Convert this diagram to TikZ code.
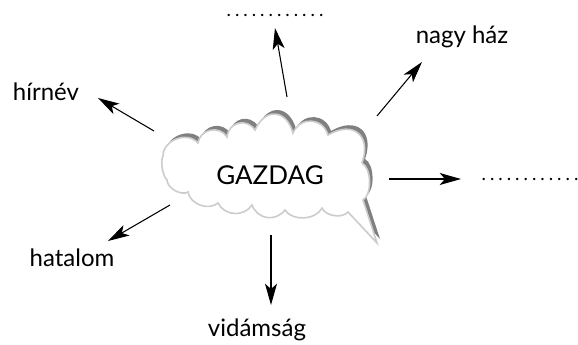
\documentclass[tikz,border=0pt]{standalone}
\usepackage{fontspec}
\setmainfont{Lato}
\usetikzlibrary{arrows.meta}
\newcommand\dotrow{\makebox[6.3pt]{.}\makebox[6.3pt]{.}\makebox[6.3pt]{.}\makebox[6.3pt]{.}\makebox[6.3pt]{.}\makebox[6.3pt]{.}\makebox[6.3pt]{.}\makebox[6.3pt]{.}\makebox[6.3pt]{.}\makebox[6.3pt]{.}\makebox[6.3pt]{.}\makebox[6.3pt]{.}}
\def\cloudpath{(163,156) to[bend left=70, looseness=1.1] (198,143) to[bend left=70, looseness=1.23] (227,137) to[bend left=70, looseness=1.34] (255,130) to[bend left=70, looseness=1.67] (293,133) to[bend left=70, looseness=1.34] (328,135) to[bend left=70, looseness=1.7] (362,163) to[bend left=60, looseness=0.75] (363,200) -- (377,243) -- (348,212) to[bend left=60, looseness=0.85] (322,208) to[bend left=60, looseness=0.95] (285,210) to[bend left=60, looseness=1.2] (252,205) to[bend left=60, looseness=1.1] (218,203) to[bend left=60, looseness=1.0] (188,192) to[bend left=60, looseness=0.85] (167,180) to[bend left=40, looseness=0.6] cycle}
\begin{document}
\begin{tikzpicture}[x=0.75pt,y=-0.75pt,
  lbl/.style={font=\fontsize{18pt}{20pt}\selectfont, inner sep=0pt, anchor=base},
  big/.style={font=\fontsize{19.5pt}{22pt}\selectfont, inner sep=0pt, anchor=base},
  dots/.style={font=\fontsize{14pt}{16pt}\selectfont, inner sep=0pt, anchor=base},
  arr/.style={line width=0.8pt, -{Stealth[length=16pt,width=9pt,inset=4pt]}},
  shadowfill/.style={fill=black!50},
  cloudfill/.style={fill=white, draw=black!20, line width=1.2pt},
]
\useasboundingbox (0,0) rectangle (578,344);
% cloud
\fill[shadowfill, shift={(3,-4)}] \cloudpath;
\filldraw[cloudfill] \cloudpath;
\node[big] (g) at (270,184) {GAZDAG};
% labels
\node[lbl] (hir) at (46,100) {hírnév};
\node[lbl] (nagy) at (462,43) {nagy ház};
\node[lbl] (hat) at (72,266) {hatalom};
\node[lbl] (vid) at (257,336) {vidámság};
\node[dots] (top) at (275,16) {\dotrow};
\node[dots] (right) at (530,180) {\dotrow};
% arrow ends
\coordinate (s1) at (154,131); \coordinate (e1) at (98,98);
\coordinate (s2) at (287,97);  \coordinate (e2) at (275,28);
\coordinate (s3) at (377,116); \coordinate (e3) at (422,62);
\coordinate (s4) at (389,179); \coordinate (e4) at (461,179);
\coordinate (s5) at (170,205); \coordinate (e5) at (108,241);
\coordinate (s6) at (271,235); \coordinate (e6) at (271,305);
\draw[arr] (s1) -- (e1);
\draw[arr] (s2) -- (e2);
\draw[arr] (s3) -- (e3);
\draw[arr] (s4) -- (e4);
\draw[arr] (s5) -- (e5);
\draw[arr] (s6) -- (e6);
\end{tikzpicture}
\end{document}
